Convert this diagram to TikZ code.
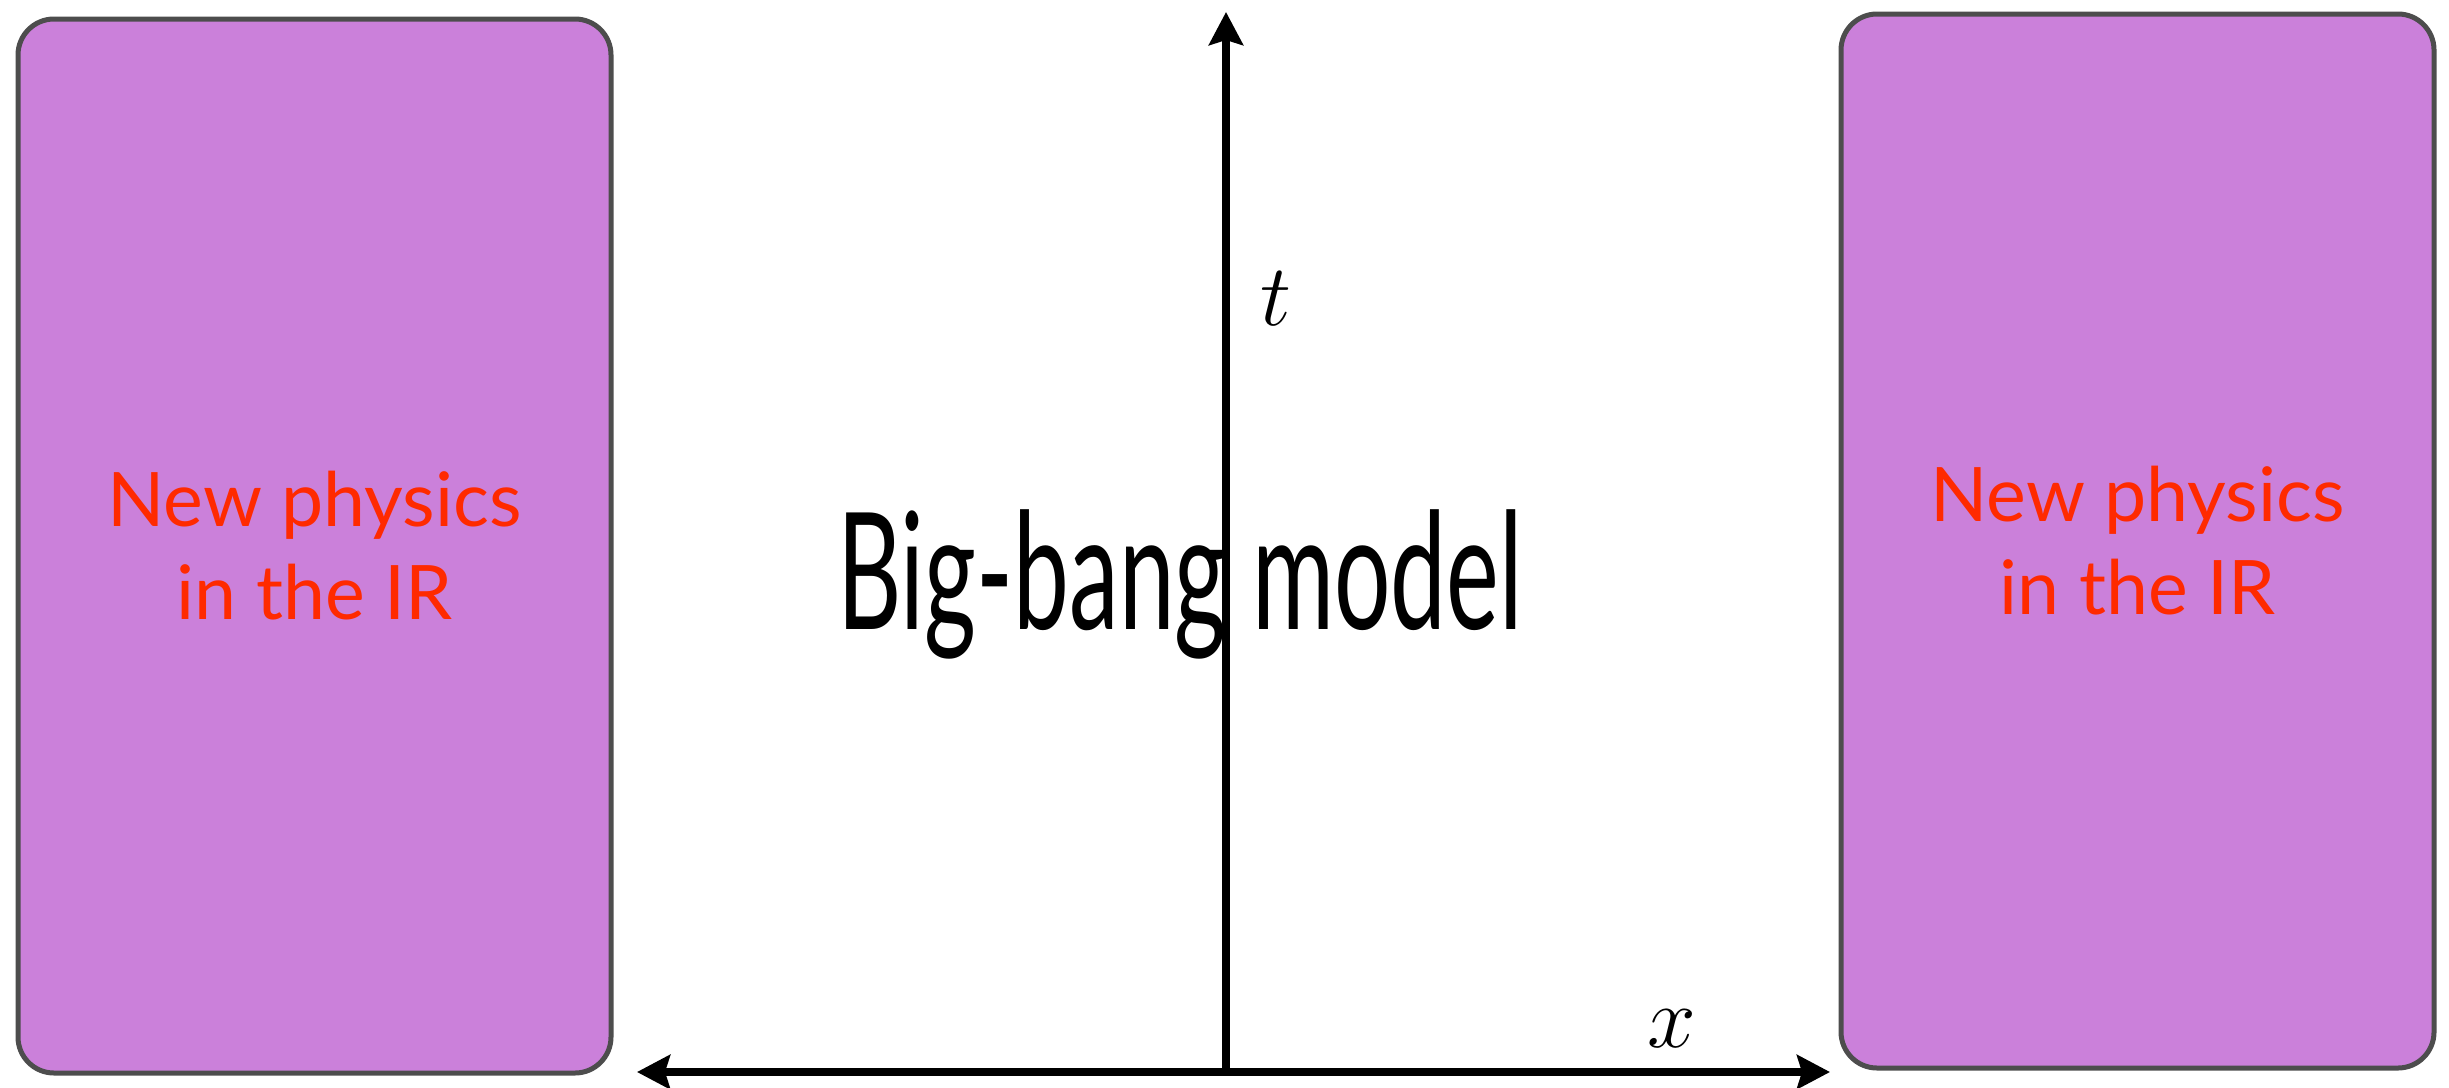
\documentclass[tikz,border=0pt]{standalone}
\usepackage{fontspec}
\setmainfont{Lato}
\newfontfamily\modelfont[FakeStretch=0.613]{Lato}
\definecolor{IRviolet}{HTML}{CB80DA}
\definecolor{IRred}{HTML}{FF2A00}
\definecolor{IRedge}{HTML}{4D4D4D}
\usetikzlibrary{arrows.meta, positioning}

\begin{document}
\begin{tikzpicture}[
      irbox/.style={draw=IRedge, line width=0.05cm, fill=IRviolet, rounded corners=0.36cm,
         minimum width=5.93cm, minimum height=10.54cm, inner sep=0pt,
         text=IRred, align=center, font=\fontsize{21.4}{26.5}\selectfont},
      axis/.style={line width=0.08cm, {Stealth[length=0.33cm, width=0.34cm, inset=0.05cm]}-{Stealth[length=0.33cm, width=0.34cm, inset=0.05cm]}},
      axisup/.style={line width=0.08cm, -{Stealth[length=0.33cm, width=0.34cm, inset=0.05cm]}},
      mathlabel/.style={font=\fontsize{27.6}{33}\selectfont, inner sep=0pt}
   ]
   \useasboundingbox (0,0) rectangle (24.49,10.87);
   % New physics boxes
   \node[irbox] (leftbox) at (3.145,5.41) {New physics\\in the IR};
   \node[irbox] (rightbox) at (21.375,5.46) {New physics\\in the IR};
   % Axes
   \coordinate (origin) at (12.26,0.15);
   \coordinate (ttip) at (12.26,10.75);
   \coordinate (xleft) at (6.37,0.15);
   \coordinate (xright) at (18.30,0.15);
   \draw[axis] (xleft) -- (xright);
   \draw[axisup] (origin) -- (ttip);
   \node[mathlabel, anchor=base west] (tlabel) at (12.60,7.62) {$t$};
   \node[mathlabel, anchor=base] (xlabel) at (16.72,0.40) {$x$};
   % Model label
   \node[font=\modelfont\fontsize{46.3}{55}\selectfont, inner sep=0pt, anchor=base] (model) at (11.80,4.58) {Big-bang model};
\end{tikzpicture}
\end{document}
